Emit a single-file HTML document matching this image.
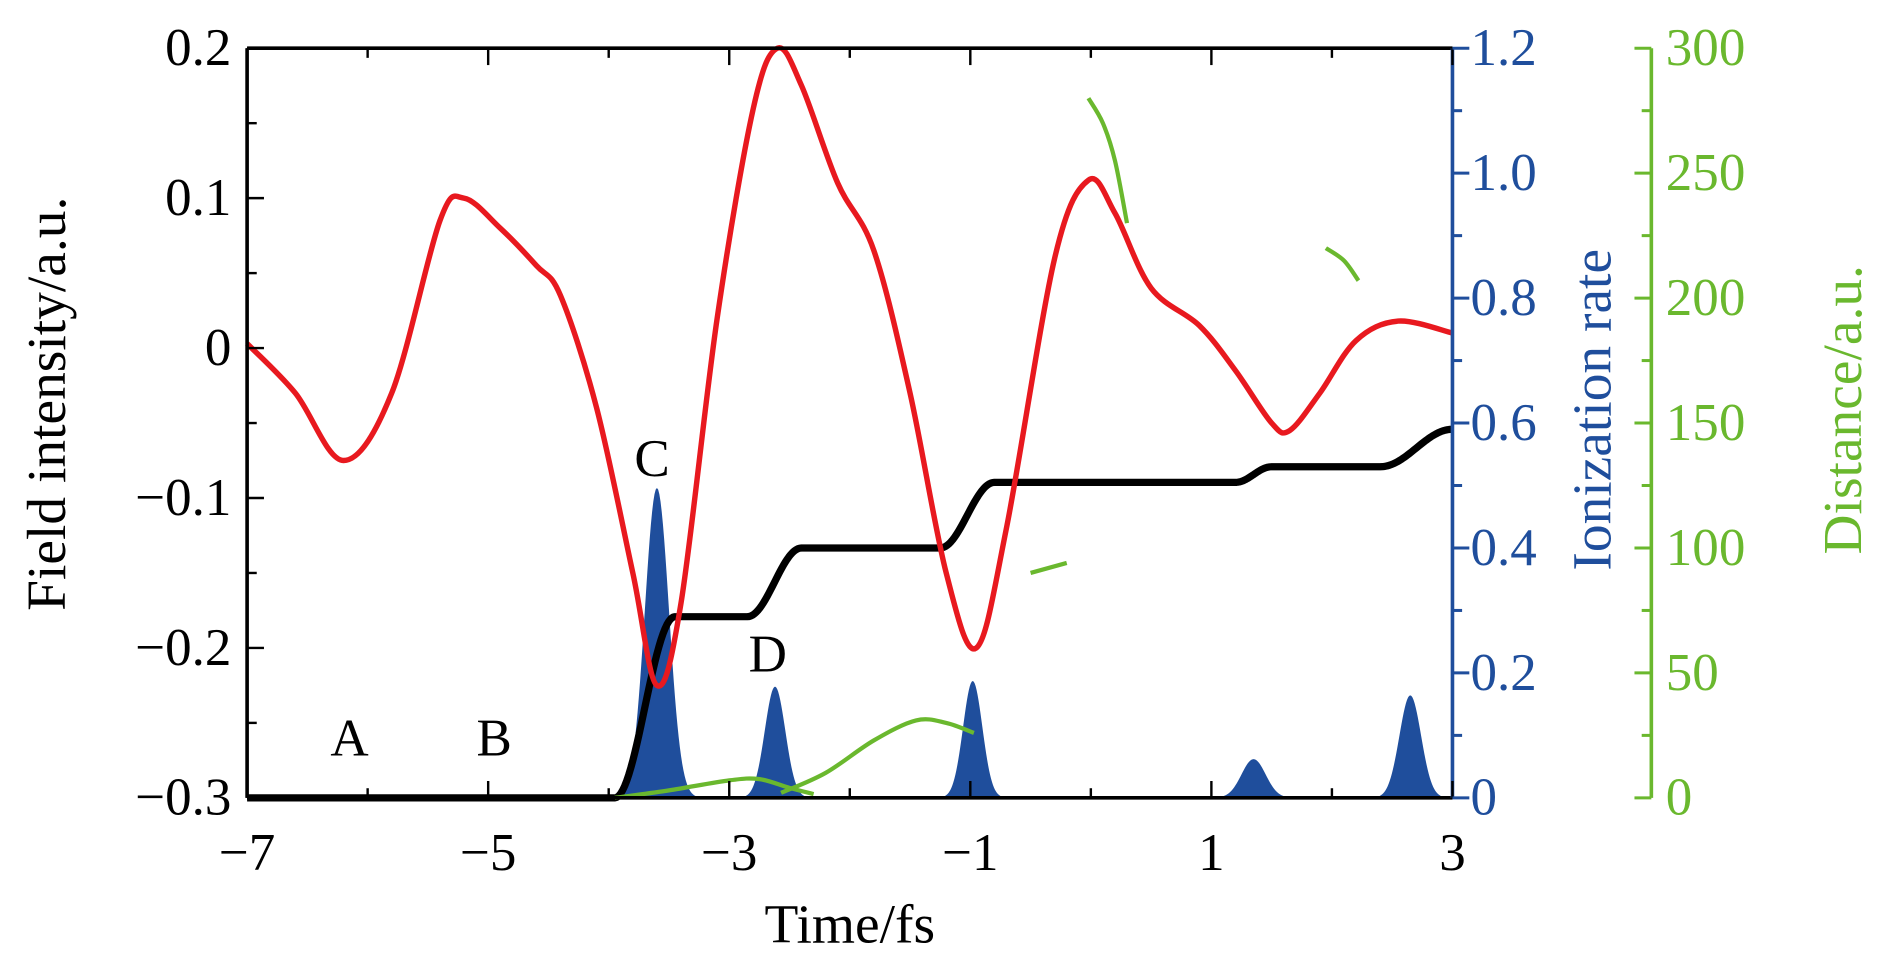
<!DOCTYPE html>
<html><head><meta charset="utf-8"><style>
html,body{margin:0;padding:0;background:#fff;}
svg{display:block;font-family:"Liberation Serif",serif;}
</style></head><body>
<svg id="chart" width="1890" height="969" viewBox="0 0 1568 804" preserveAspectRatio="none" xmlns="http://www.w3.org/2000/svg">
<g id="plot"></g>
</svg>
<script>
// ---- data ----
const fieldT = [-7,-6.6,-6.2,-5.8,-5.4,-5.2,-4.9,-4.6,-4.4,-4.1,-3.8,-3.6,-3.4,-3.1,-2.8,-2.6,-2.4,-2.1,-1.8,-1.5,-1.2,-0.95,-0.7,-0.3,-0.02,0.2,0.5,0.9,1.2,1.5,1.65,1.9,2.2,2.55,3];
const fieldV = [0.003,-0.03,-0.075,-0.03,0.085,0.1,0.08,0.055,0.035,-0.04,-0.15,-0.225,-0.17,0.02,0.16,0.2,0.175,0.11,0.065,-0.03,-0.15,-0.2,-0.12,0.06,0.112,0.09,0.04,0.015,-0.015,-0.05,-0.055,-0.03,0.005,0.018,0.01];
const stepT = [-7,-3.95,-3.45,-2.85,-2.4,-1.25,-0.8,1.2,1.5,2.4,3];
const stepV = [0,0,0.29,0.29,0.4,0.4,0.505,0.505,0.53,0.53,0.59];
const peakT = [-3.6,-2.62,-0.98,1.35,2.65];
const peakH = [0.496,0.178,0.187,0.062,0.164];
const peakS = [0.1,0.085,0.08,0.1,0.09];
const distSegT = [[-3.95,-3.5,-3.0,-2.75,-2.5,-2.3],[-2.57,-2.2,-1.8,-1.45,-1.2,-0.97],[-0.02,0.1,0.2,0.3],[-0.5,-0.2],[1.95,2.1,2.22]];
const distSegD = [[0,3,7,7.5,4,1.5],[2,10,23,31,30,26],[280,270,255,230],[90,94],[220,215,207]];
const xTicks = [-7,-5,-3,-1,1,3];
const xTickLabels = ["\u22127","\u22125","\u22123","\u22121","1","3"];
const yTicks = [0.2,0.1,0,-0.1,-0.2,-0.3];
const yTickLabels = ["0.2","0.1","0","\u22120.1","\u22120.2","\u22120.3"];
const ionTicks = [0,0.2,0.4,0.6,0.8,1.0,1.2];
const ionTickLabels = ["0","0.2","0.4","0.6","0.8","1.0","1.2"];
const distTicks = [0,50,100,150,200,250,300];
const distTickLabels = ["0","50","100","150","200","250","300"];

// ---- scales ----
const L=205,R=1205,T=40,B=662,GX=1370;
const RED="#e8191f",BLUE="#1f4e9c",GREEN="#6ab82e";
const xs=t=>L+(t+7)*(R-L)/10;
const ys=v=>T+(0.2-v)*(B-T)/0.5;
const yi=v=>B-v*(B-T)/1.2;
const yd=v=>B-v*(B-T)/300;
const g=document.getElementById('plot');
const NS="http://www.w3.org/2000/svg";
function mk(tag,attrs,parent){const e=document.createElementNS(NS,tag);for(const k in attrs)e.setAttribute(k,attrs[k]);(parent||g).appendChild(e);return e;}
function smooth(pts){let d=`M${pts[0][0]},${pts[0][1]}`;for(let i=0;i<pts.length-1;i++){const p0=pts[Math.max(0,i-1)],p1=pts[i],p2=pts[i+1],p3=pts[Math.min(pts.length-1,i+2)];const c1=[p1[0]+(p2[0]-p0[0])/6,p1[1]+(p2[1]-p0[1])/6],c2=[p2[0]-(p3[0]-p1[0])/6,p2[1]-(p3[1]-p1[1])/6];d+=`C${c1[0]},${c1[1]} ${c2[0]},${c2[1]} ${p2[0]},${p2[1]}`;}return d;}
function cosPath(ts,vs){let d=`M${xs(ts[0])},${yi(vs[0])}`;for(let i=0;i<ts.length-1;i++){for(let k=1;k<=30;k++){const f=k/30;const w=(1-Math.cos(Math.PI*f))/2;d+=`L${xs(ts[i]+(ts[i+1]-ts[i])*f)},${yi(vs[i]+(vs[i+1]-vs[i])*w)}`;}}return d;}

// peaks
peakT.forEach((c,i)=>{let d=`M${xs(c-4*peakS[i])},${B}`;for(let k=-40;k<=40;k++){const t=c+k*peakS[i]/10;d+=`L${xs(t)},${yi(peakH[i]*Math.exp(-0.5*Math.pow((t-c)/peakS[i],2)))}`;}d+=`L${xs(c+4*peakS[i])},${B}Z`;
const p=mk('path',{d,fill:BLUE});

});

// step line
const sp=mk('path',{d:cosPath(stepT,stepV),fill:'none',stroke:'#000','stroke-width':6,'stroke-linejoin':'round'});



// field
const fp=mk('path',{d:smooth(fieldT.map((t,i)=>[xs(t),ys(fieldV[i])])),fill:'none',stroke:RED,'stroke-width':4.5});



// distance
distSegT.forEach((ts,j)=>{const p=mk('path',{d:smooth(ts.map((t,i)=>[xs(t),yd(distSegD[j][i])])),fill:'none',stroke:GREEN,'stroke-width':3.5});

});

// axes frame
mk('line',{x1:L,y1:T,x2:L,y2:B,stroke:'#000','stroke-width':3});
mk('line',{x1:L,y1:B,x2:R,y2:B,stroke:'#000','stroke-width':3});
mk('line',{x1:L,y1:T,x2:R,y2:T,stroke:'#000','stroke-width':3});
mk('line',{x1:R,y1:T,x2:R,y2:B,stroke:BLUE,'stroke-width':3});
mk('line',{x1:GX,y1:T,x2:GX,y2:B,stroke:GREEN,'stroke-width':3});
for(let t=-7;t<=3;t++){const len=(t%2!==0)?14:8;mk('line',{x1:xs(t),y1:B,x2:xs(t),y2:B-len,stroke:'#000','stroke-width':2});mk('line',{x1:xs(t),y1:T,x2:xs(t),y2:T+len,stroke:'#000','stroke-width':2});}
xTicks.forEach((t,i)=>{const e=mk('text',{x:xs(t),y:722,'font-size':44,'text-anchor':'middle',fill:'#000'});e.textContent=xTickLabels[i];

});
for(let k=0;k<=10;k++){const v=0.2-k*0.05;const len=k%2===0?14:8;mk('line',{x1:L,y1:ys(v),x2:L+len,y2:ys(v),stroke:'#000','stroke-width':2});}
yTicks.forEach((v,i)=>{const e=mk('text',{x:192,y:ys(v)+14,'font-size':44,'text-anchor':'end',fill:'#000'});e.textContent=yTickLabels[i];

});
for(let k=0;k<=12;k++){const v=k*0.1;const len=k%2===0?14:8;mk('line',{x1:R,y1:yi(v),x2:R+len,y2:yi(v),stroke:BLUE,'stroke-width':2.5});}
ionTicks.forEach((v,i)=>{const e=mk('text',{x:1220,y:yi(v)+14,'font-size':44,fill:BLUE});e.textContent=ionTickLabels[i];

});
for(let k=0;k<=12;k++){const v=k*25;const len=k%2===0?14:8;mk('line',{x1:GX,y1:yd(v),x2:GX-len,y2:yd(v),stroke:GREEN,'stroke-width':2.5});}
distTicks.forEach((v,i)=>{const e=mk('text',{x:1382,y:yd(v)+14,'font-size':44,fill:GREEN});e.textContent=distTickLabels[i];

});
function txt(s,attrs,name){const e=mk('text',attrs);e.textContent=s;

}
txt('Time/fs',{x:705,y:782,'font-size':46,'text-anchor':'middle',fill:'#000'},'x-axis-title');
txt('Field intensity/a.u.',{x:0,y:0,'font-size':46,'text-anchor':'middle',fill:'#000',transform:'translate(54,335) rotate(-90)'},'y-axis-title');
txt('Ionization rate',{x:0,y:0,'font-size':46,'text-anchor':'middle',fill:BLUE,transform:'translate(1336,340) rotate(-90)'},'ionization-axis-title');
txt('Distance/a.u.',{x:0,y:0,'font-size':46,'text-anchor':'middle',fill:GREEN,transform:'translate(1544,340) rotate(-90)'},'distance-axis-title');
txt('A',{x:290,y:627,'font-size':44,'text-anchor':'middle',fill:'#000'},'label-a');
txt('B',{x:410,y:627,'font-size':44,'text-anchor':'middle',fill:'#000'},'label-b');
txt('C',{x:541,y:395,'font-size':44,'text-anchor':'middle',fill:'#000'},'label-c');
txt('D',{x:637,y:557,'font-size':44,'text-anchor':'middle',fill:'#000'},'label-d');
</script>
</body></html>
